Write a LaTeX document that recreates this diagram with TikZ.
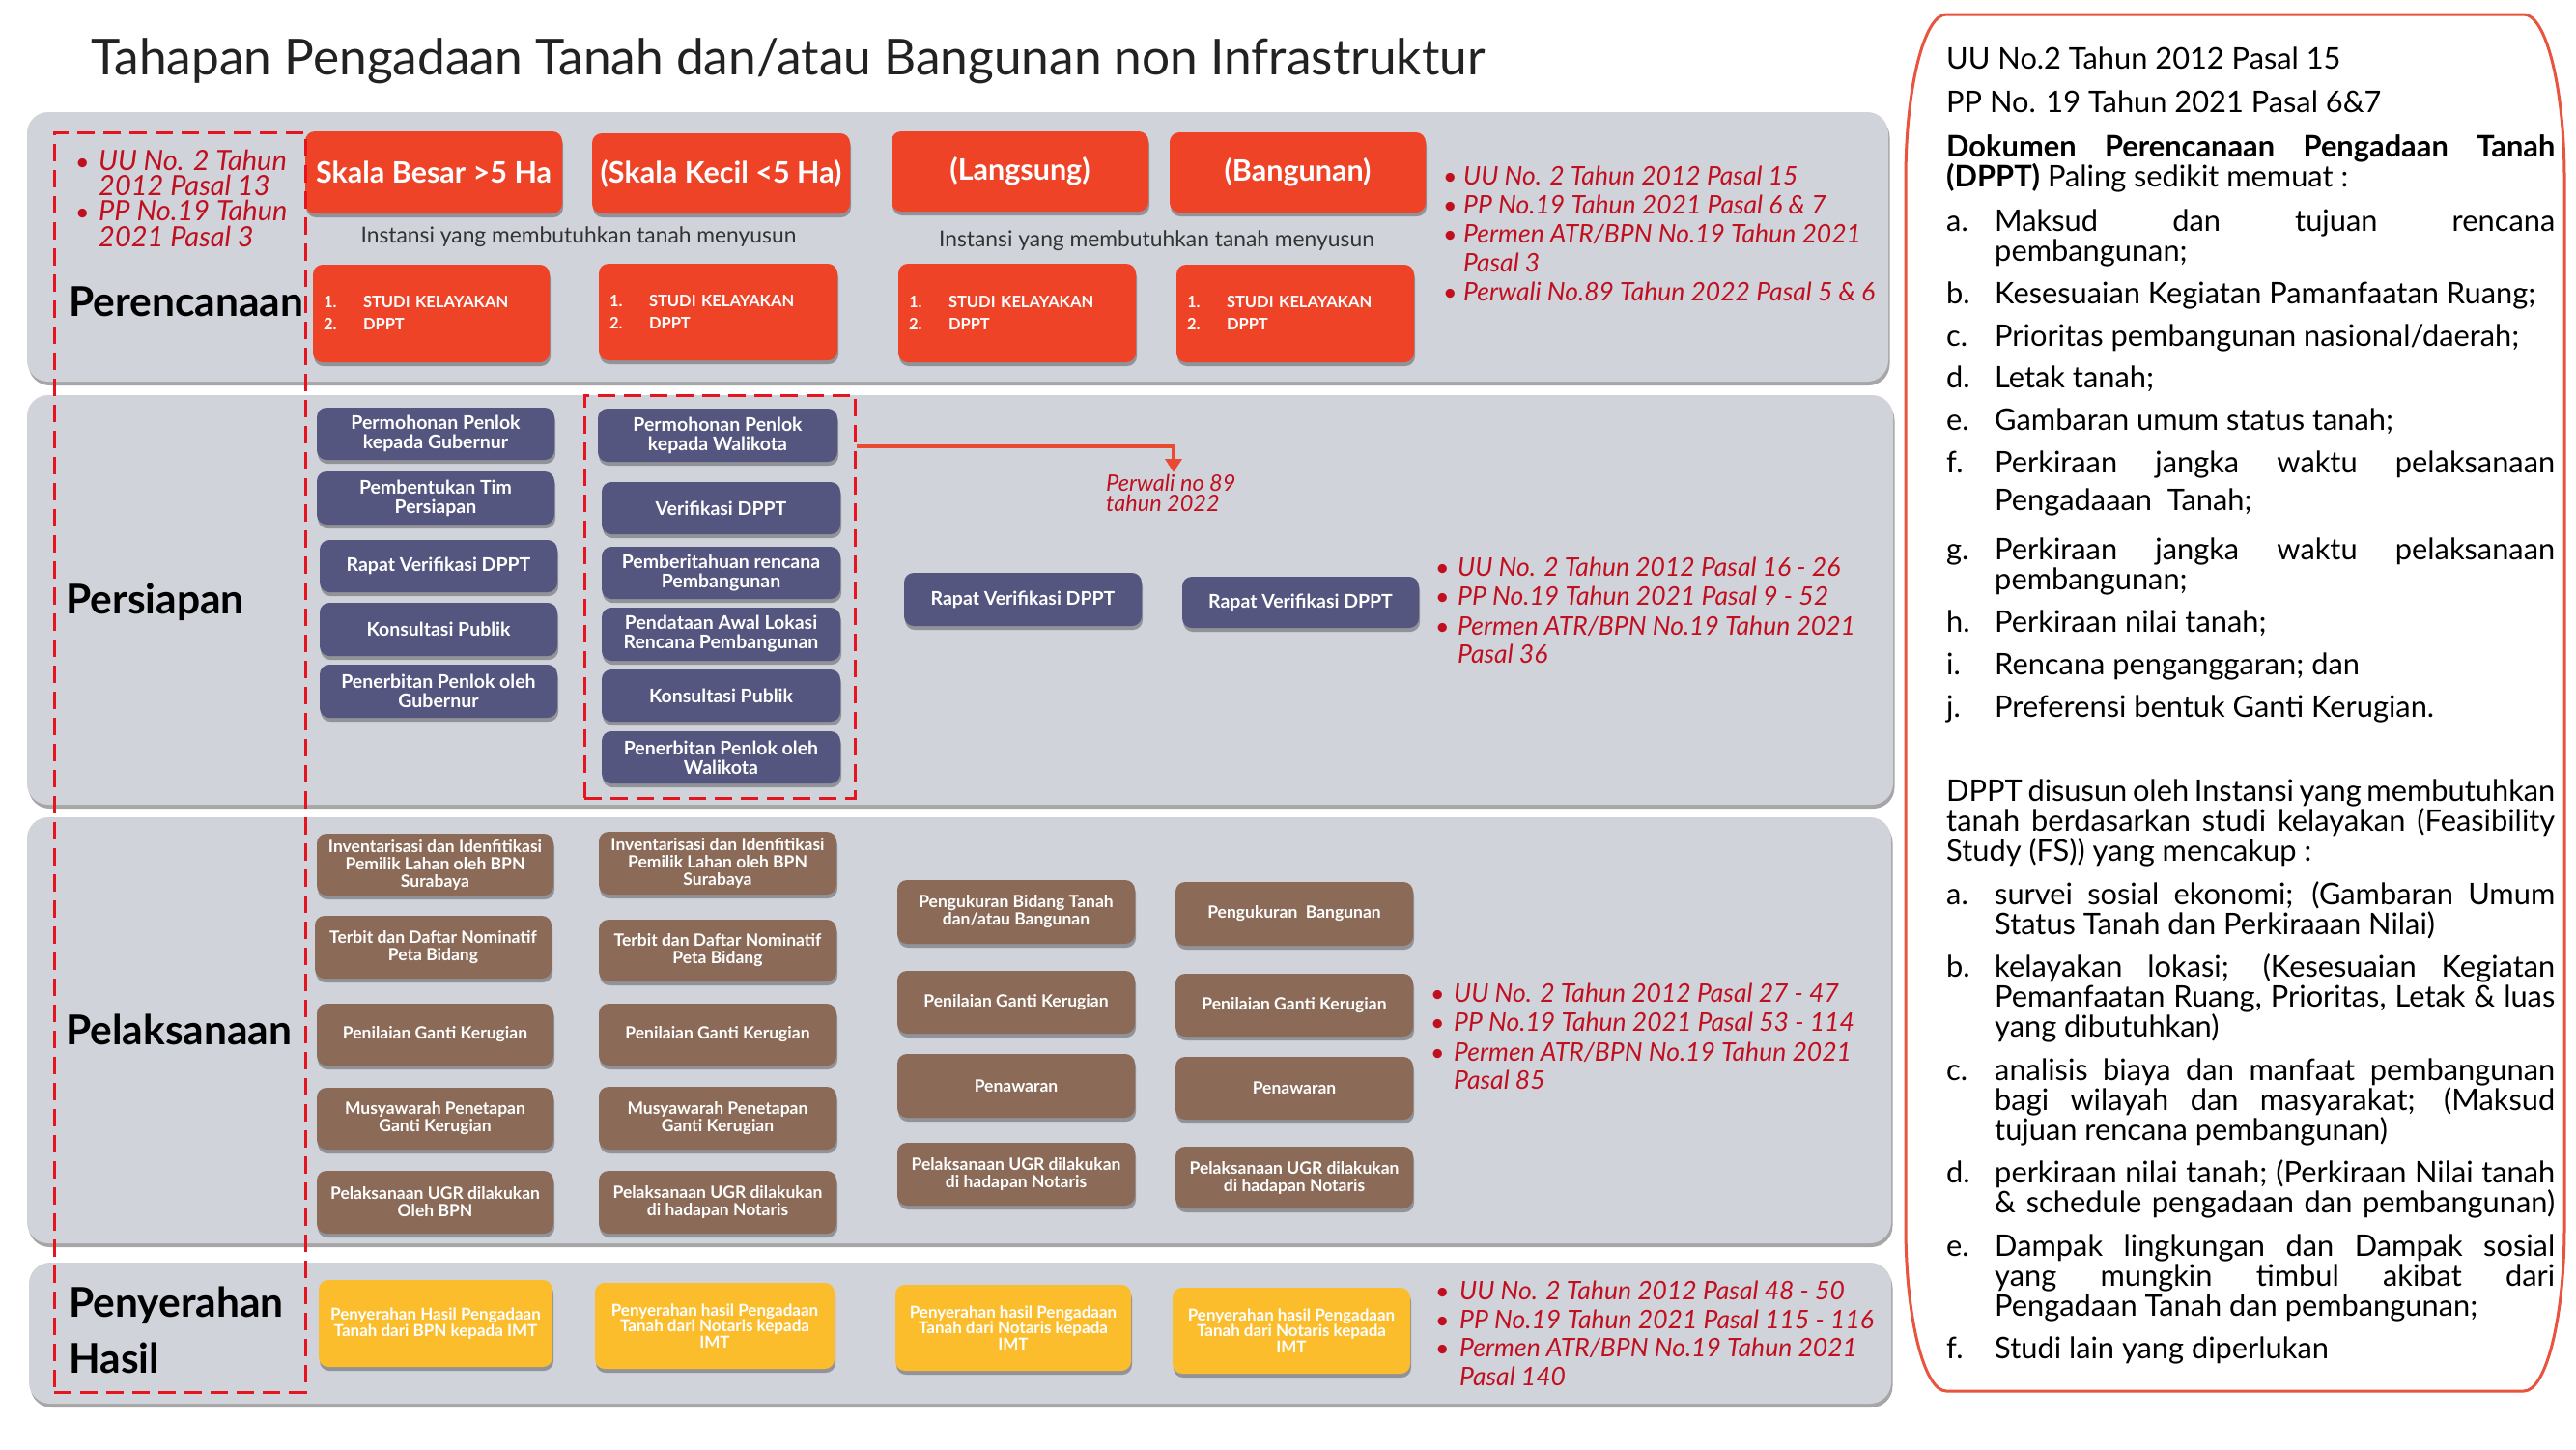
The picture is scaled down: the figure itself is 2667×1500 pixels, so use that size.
\documentclass[tikz,border=0pt]{standalone}
\usepackage{fontspec}
\setmainfont{Lato}
\usetikzlibrary{shadows,arrows.meta}
\definecolor{panelgray}{RGB}{209,211,219}
\definecolor{boxred}{RGB}{239,67,40}
\definecolor{navybox}{RGB}{84,86,128}
\definecolor{brownbox}{RGB}{139,107,88}
\definecolor{yellowbox}{RGB}{252,189,45}
\definecolor{dashred}{RGB}{230,20,30}
\definecolor{refred}{RGB}{192,16,32}
\definecolor{arrowred}{RGB}{233,74,48}
\definecolor{outlinered}{RGB}{233,84,62}
\definecolor{titlegray}{RGB}{34,34,34}
\newcommand\fs[2]{\fontsize{#1}{#2}\selectfont}
\newcommand\jl[2]{\makebox[#1][s]{#2}}
\newcounter{ln}
\newcommand\tl[3]{\stepcounter{ln}\node[anchor=base west, inner sep=0pt] (tl\arabic{ln}) at (#1,#2) {#3};}
\newcommand\rfb[4]{\stepcounter{ln}\node[anchor=base west, inner sep=0pt, font=\fs{25}{30}\upshape] (rb\arabic{ln}) at (#1,#3) {\textbullet};\tl{#2}{#3}{#4}}
\tikzset{
  panel/.style={fill=panelgray, rounded corners=22pt, drop shadow={shadow xshift=1.5pt, shadow yshift=-4pt, opacity=.35, fill=black}},
  tbox/.style={rounded corners=10pt, text=white, align=center, inner sep=2pt, drop shadow={shadow xshift=1pt, shadow yshift=-4pt, opacity=.3, fill=black}},
  redtop/.style={tbox, fill=boxred, font=\fs{30.5}{33}\bfseries},
  redlist/.style={tbox, fill=boxred, font=\fs{16.5}{23}\bfseries, align=left, inner xsep=11pt},
  navy/.style={tbox, fill=navybox, font=\fs{19.5}{20}\bfseries},
  brown/.style={tbox, fill=brownbox, font=\fs{17.5}{18}\bfseries},
  yellow/.style={tbox, fill=yellowbox, font=\fs{17}{16.5}\bfseries},
  dashbox/.style={draw=dashred, line width=3pt, dash pattern=on 18pt off 9pt, inner sep=0pt},
  phase/.style={anchor=base west, inner sep=0pt, font=\fs{42.5}{50}\bfseries, text=black},
  instansi/.style={anchor=base, inner sep=0pt, font=\fs{22.8}{27}, text=black!80},
}
\begin{document}
\begin{tikzpicture}[x=1pt, y=-1pt]
\useasboundingbox (0,0) rectangle (2667,1500);
\fill[white] (0,0) rectangle (2667,1500);

% title
\node[anchor=base west, inner sep=0pt, font=\fs{51.4}{60}, text=titlegray] (title) at (94,77) {Tahapan Pengadaan Tanah dan/atau Bangunan non Infrastruktur};

% panels
\node[panel, minimum width=1927, minimum height=279, inner sep=0pt] (p1) at (991.5,255.5) {};
\node[panel, minimum width=1932, minimum height=424, inner sep=0pt] (p2) at (994,621) {};
\node[panel, minimum width=1930, minimum height=441, inner sep=0pt] (p3) at (993,1066.5) {};
\node[panel, minimum width=1928, minimum height=146, inner sep=0pt] (p4) at (994,1380) {};

% phase labels
\node[phase] (lab1) at (71,327) {Perencanaan};
\node[phase] (lab2) at (68,635) {Persiapan};
\node[phase] (lab3) at (68,1081) {Pelaksanaan};
\node[phase] (lab4a) at (71,1363) {Penyerahan};
\node[phase] (lab4b) at (71,1421) {Hasil};

% left refs
\begin{scope}[every node/.append style={font=\fs{29}{29}\itshape, text=refred}]
\rfb{78}{102}{176}{UU No. 2 Tahun}
\tl{102}{202}{2012 Pasal 13}
\rfb{78}{102}{228}{PP No.19 Tahun}
\tl{102}{255}{2021 Pasal 3}
\end{scope}

% Perencanaan boxes
\node[redtop, minimum width=266, minimum height=85] (a1) at (449,178.5) {Skala Besar >5 Ha};
\node[redtop, minimum width=267, minimum height=83] (a2) at (746.5,179.5) {(Skala Kecil <5 Ha)};
\node[redtop, minimum width=266, minimum height=83] (a3) at (1056,177.5) {(Langsung)};
\node[redtop, minimum width=265, minimum height=83] (a4) at (1343.5,178.5) {(Bangunan)};
\node[instansi] (in1) at (599,251) {Instansi yang membutuhkan tanah menyusun};
\node[instansi] (in2) at (1197.5,255) {Instansi yang membutuhkan tanah menyusun};
\node[redlist, text width=223pt, minimum height=101] (b1) at (446.5,324.5) {\makebox[41pt][l]{1.}STUDI KELAYAKAN\\\makebox[41pt][l]{2.}DPPT};
\node[redlist, text width=225pt, minimum height=100] (b2) at (743.5,323) {\makebox[41pt][l]{1.}STUDI KELAYAKAN\\\makebox[41pt][l]{2.}DPPT};
\node[redlist, text width=224pt, minimum height=102] (b3) at (1053,324) {\makebox[41pt][l]{1.}STUDI KELAYAKAN\\\makebox[41pt][l]{2.}DPPT};
\node[redlist, text width=224pt, minimum height=101] (b4) at (1341,324.5) {\makebox[41pt][l]{1.}STUDI KELAYAKAN\\\makebox[41pt][l]{2.}DPPT};

% Persiapan boxes
\node[navy, minimum width=246, minimum height=54] (c1) at (451,449) {Permohonan Penlok\\kepada Gubernur};
\node[navy, minimum width=246, minimum height=55] (c2) at (451,515.5) {Pembentukan Tim\\Persiapan};
\node[navy, minimum width=246, minimum height=54] (c3) at (454,586) {Rapat Verifikasi DPPT};
\node[navy, minimum width=246, minimum height=55] (c4) at (454,651.5) {Konsultasi Publik};
\node[navy, minimum width=246, minimum height=55] (c5) at (454,715.5) {Penerbitan Penlok oleh\\Gubernur};
\node[navy, minimum width=248, minimum height=55] (d1) at (743,450.5) {Permohonan Penlok\\kepada Walikota};
\node[navy, minimum width=247, minimum height=54] (d2) at (746.5,526) {Verifikasi DPPT};
\node[navy, minimum width=247, minimum height=54] (d3) at (746.5,593) {Pemberitahuan rencana\\Pembangunan};
\node[navy, minimum width=247, minimum height=55] (d4) at (746.5,656.5) {Pendataan Awal Lokasi\\Rencana Pembangunan};
\node[navy, minimum width=247, minimum height=54] (d5) at (746.5,720) {Konsultasi Publik};
\node[navy, minimum width=247, minimum height=54] (d6) at (746.5,784) {Penerbitan Penlok oleh\\Walikota};
\node[navy, minimum width=246, minimum height=55] (e1) at (1059,620.5) {Rapat Verifikasi DPPT};
\node[navy, minimum width=245, minimum height=53] (e2) at (1346.5,623.5) {Rapat Verifikasi DPPT};

% Pelaksanaan boxes
\node[brown, minimum width=245, minimum height=64] (f1) at (450.5,895) {Inventarisasi dan Idenfitikasi\\Pemilik Lahan oleh BPN\\Surabaya};
\node[brown, minimum width=245, minimum height=65] (f2) at (448.5,980.5) {Terbit dan Daftar Nominatif\\Peta Bidang};
\node[brown, minimum width=245, minimum height=64] (f3) at (450.5,1071) {Penilaian Ganti Kerugian};
\node[brown, minimum width=245, minimum height=64] (f4) at (450.5,1158) {Musyawarah Penetapan\\Ganti Kerugian};
\node[brown, minimum width=245, minimum height=65] (f5) at (450.5,1244.5) {Pelaksanaan UGR dilakukan\\Oleh BPN};
\node[brown, minimum width=246, minimum height=65] (g1) at (743,893.5) {Inventarisasi dan Idenfitikasi\\Pemilik Lahan oleh BPN\\Surabaya};
\node[brown, minimum width=246, minimum height=64] (g2) at (743,984) {Terbit dan Daftar Nominatif\\Peta Bidang};
\node[brown, minimum width=246, minimum height=64] (g3) at (743,1071) {Penilaian Ganti Kerugian};
\node[brown, minimum width=246, minimum height=65] (g4) at (743,1157.5) {Musyawarah Penetapan\\Ganti Kerugian};
\node[brown, minimum width=246, minimum height=65] (g5) at (743,1244.5) {Pelaksanaan UGR dilakukan\\di hadapan Notaris};
\node[brown, minimum width=246, minimum height=66] (h1) at (1052,944) {Pengukuran Bidang Tanah\\dan/atau Bangunan};
\node[brown, minimum width=246, minimum height=65] (h2) at (1052,1037.5) {Penilaian Ganti Kerugian};
\node[brown, minimum width=246, minimum height=66] (h3) at (1052,1124) {Penawaran};
\node[brown, minimum width=246, minimum height=65] (h4) at (1052,1215.5) {Pelaksanaan UGR dilakukan\\di hadapan Notaris};
\node[brown, minimum width=246, minimum height=66] (i1) at (1340,946) {Pengukuran~~Bangunan};
\node[brown, minimum width=246, minimum height=65] (i2) at (1340,1040.5) {Penilaian Ganti Kerugian};
\node[brown, minimum width=246, minimum height=65] (i3) at (1340,1126.5) {Penawaran};
\node[brown, minimum width=246, minimum height=64] (i4) at (1340,1219) {Pelaksanaan UGR dilakukan\\di hadapan Notaris};

% Penyerahan boxes
\node[yellow, minimum width=242, minimum height=90] (j1) at (451,1370) {Penyerahan Hasil Pengadaan\\Tanah dari BPN kepada IMT};
\node[yellow, minimum width=248, minimum height=89] (j2) at (740,1372.5) {Penyerahan hasil Pengadaan\\Tanah dari Notaris kepada\\IMT};
\node[yellow, minimum width=244, minimum height=89] (j3) at (1049,1374.5) {Penyerahan hasil Pengadaan\\Tanah dari Notaris kepada\\IMT};
\node[yellow, minimum width=246, minimum height=89] (j4) at (1337,1377.5) {Penyerahan hasil Pengadaan\\Tanah dari Notaris kepada\\IMT};

% references (red italic)
\begin{scope}[every node/.append style={font=\fs{26.5}{30}\itshape, text=refred}]
\rfb{1494}{1515}{191}{UU No. 2 Tahun 2012 Pasal 15}
\rfb{1494}{1515}{221}{PP No.19 Tahun 2021 Pasal 6 \& 7}
\rfb{1494}{1515}{251}{Permen ATR/BPN No.19 Tahun 2021}
\tl{1515}{281}{Pasal 3}
\rfb{1494}{1515}{311}{Perwali No.89 Tahun 2022 Pasal 5 \& 6}
\rfb{1486}{1509}{596}{UU No. 2 Tahun 2012 Pasal 16 - 26}
\rfb{1486}{1509}{626}{PP No.19 Tahun 2021 Pasal 9 - 52}
\rfb{1486}{1509}{657}{Permen ATR/BPN No.19 Tahun 2021}
\tl{1509}{686}{Pasal 36}
\rfb{1481}{1505}{1037}{UU No. 2 Tahun 2012 Pasal 27 - 47}
\rfb{1481}{1505}{1067}{PP No.19 Tahun 2021 Pasal 53 - 114}
\rfb{1481}{1505}{1098}{Permen ATR/BPN No.19 Tahun 2021}
\tl{1505}{1127}{Pasal 85}
\rfb{1486}{1511}{1345}{UU No. 2 Tahun 2012 Pasal 48 - 50}
\rfb{1486}{1511}{1375}{PP No.19 Tahun 2021 Pasal 115 - 116}
\rfb{1486}{1511}{1404}{Permen ATR/BPN No.19 Tahun 2021}
\tl{1511}{1434}{Pasal 140}
\end{scope}
\begin{scope}[every node/.append style={font=\fs{23.5}{23}\itshape, text=refred}]
\tl{1145}{508}{Perwali no 89}
\tl{1145}{529}{tahun 2022}
\end{scope}

% dashed boxes and arrow
\node[dashbox, minimum width=260, minimum height=1304] (lbox) at (186,789) {};
\node[dashbox, minimum width=280, minimum height=417] (pbox) at (745,617.5) {};
\coordinate (lvl) at (0,462);
\coordinate (aEnd) at (1215,489);
\draw[arrowred, line width=4pt, -{Triangle[width=17pt,length=14pt]}] (pbox.east |- lvl) -| (aEnd);

% right panel
\draw[outlinered, line width=3pt] (2015,15) -- (2613,15) .. controls (2636,15) and (2655,91) .. (2655,185) -- (2655,1270) .. controls (2655,1364) and (2636,1440) .. (2613,1440) -- (2015,1440) .. controls (1992,1440) and (1973,1364) .. (1973,1270) -- (1973,185) .. controls (1973,91) and (1992,15) .. (2015,15) -- cycle;

\begin{scope}[every node/.append style={font=\fs{30.8}{36}, text=black}]
\tl{2015}{71}{UU No.2 Tahun 2012 Pasal 15}
\tl{2015}{116}{PP No. 19 Tahun 2021 Pasal 6\&7}
\tl{2015}{162}{\jl{630pt}{\bfseries Dokumen Perencanaan Pengadaan Tanah}}
\tl{2015}{193}{\textbf{(DPPT)} Paling sedikit memuat :}
\tl{2015}{239}{a.}\tl{2065}{239}{\jl{580pt}{Maksud dan tujuan rencana}}
\tl{2065}{270}{pembangunan;}
\tl{2015}{314}{b.}\tl{2065}{314}{Kesesuaian Kegiatan Pamanfaatan Ruang;}
\tl{2015}{358}{c.}\tl{2065}{358}{Prioritas pembangunan nasional/daerah;}
\tl{2015}{401}{d.}\tl{2065}{401}{Letak tanah;}
\tl{2015}{445}{e.}\tl{2065}{445}{Gambaran umum status tanah;}
\tl{2015}{489}{f.}\tl{2065}{489}{\jl{580pt}{Perkiraan jangka waktu pelaksanaan}}
\tl{2065}{528}{Pengadaaan~~Tanah;}
\tl{2015}{579}{g.}\tl{2065}{579}{\jl{580pt}{Perkiraan jangka waktu pelaksanaan}}
\tl{2065}{610}{pembangunan;}
\tl{2015}{654}{h.}\tl{2065}{654}{Perkiraan nilai tanah;}
\tl{2015}{698}{i.}\tl{2065}{698}{Rencana penganggaran; dan}
\tl{2015}{742}{j.}\tl{2065}{742}{Preferensi bentuk Ganti Kerugian.}
\tl{2015}{829}{\jl{630pt}{DPPT disusun oleh Instansi yang membutuhkan}}
\tl{2015}{860}{\jl{630pt}{tanah berdasarkan studi kelayakan (Feasibility}}
\tl{2015}{891}{Study (FS)) yang mencakup :}
\tl{2015}{936}{a.}\tl{2065}{936}{\jl{580pt}{survei sosial ekonomi; (Gambaran Umum}}
\tl{2065}{967}{Status Tanah dan Perkiraaan Nilai)}
\tl{2015}{1011}{b.}\tl{2065}{1011}{\jl{580pt}{kelayakan lokasi; (Kesesuaian Kegiatan}}
\tl{2065}{1042}{\jl{580pt}{Pemanfaatan Ruang, Prioritas, Letak \& luas}}
\tl{2065}{1073}{yang dibutuhkan)}
\tl{2015}{1118}{c.}\tl{2065}{1118}{\jl{580pt}{analisis biaya dan manfaat pembangunan}}
\tl{2065}{1149}{\jl{580pt}{bagi wilayah dan masyarakat; (Maksud}}
\tl{2065}{1180}{tujuan rencana pembangunan)}
\tl{2015}{1224}{d.}\tl{2065}{1224}{\jl{580pt}{perkiraan nilai tanah; (Perkiraan Nilai tanah}}
\tl{2065}{1255}{\jl{580pt}{\& schedule pengadaan dan pembangunan)}}
\tl{2015}{1300}{e.}\tl{2065}{1300}{\jl{580pt}{Dampak lingkungan dan Dampak sosial}}
\tl{2065}{1331}{\jl{580pt}{yang mungkin timbul akibat dari}}
\tl{2065}{1362}{Pengadaan Tanah dan pembangunan;}
\tl{2015}{1406}{f.}\tl{2065}{1406}{Studi lain yang diperlukan}
\end{scope}
\end{tikzpicture}
\end{document}
